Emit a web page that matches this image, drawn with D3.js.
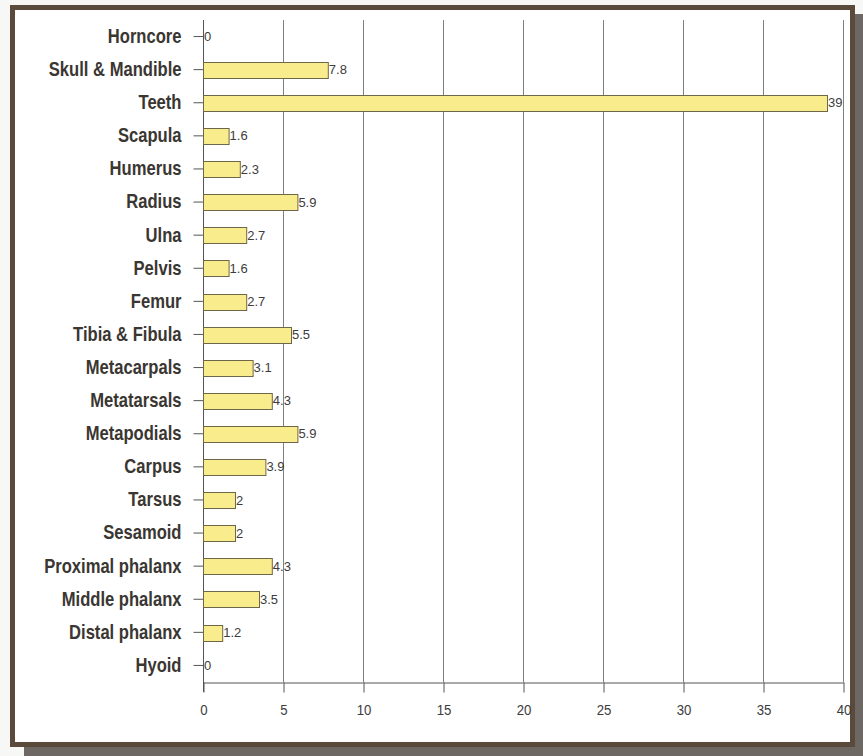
<!DOCTYPE html>
<html>
<head>
<meta charset="utf-8">
<script src="https://cdn.jsdelivr.net/npm/d3@7/dist/d3.min.js"></script>
<style>
  html, body { margin: 0; padding: 0; background: #f7f7f5; }
  svg { display: block; }
</style>
</head>
<body>
<svg id="chart" width="863" height="756"></svg>
<script>
// Skeletal element representation (%)
const categories = [
  "Horncore", "Skull & Mandible", "Teeth", "Scapula", "Humerus", "Radius",
  "Ulna", "Pelvis", "Femur", "Tibia & Fibula", "Metacarpals", "Metatarsals",
  "Metapodials", "Carpus", "Tarsus", "Sesamoid", "Proximal phalanx",
  "Middle phalanx", "Distal phalanx", "Hyoid"
];
const values = [0, 7.8, 39, 1.6, 2.3, 5.9, 2.7, 1.6, 2.7, 5.5, 3.1, 4.3, 5.9, 3.9, 2, 2, 4.3, 3.5, 1.2, 0];
const xTicks = [0, 5, 10, 15, 20, 25, 30, 35, 40];

const svg = d3.select("#chart");

// frame with drop shadow
svg.append("rect").attr("x", 24).attr("y", 14).attr("width", 839).attr("height", 742)
  .attr("fill", "#6d6864");
svg.append("rect").attr("x", 12.5).attr("y", 7.5).attr("width", 840).attr("height", 737)
  .attr("fill", "#ffffff").attr("stroke", "#5a4a3b").attr("stroke-width", 5);

const plot = { left: 203, right: 843, top: 20, bottom: 682 };

const x = d3.scaleLinear().domain([0, 40]).range([plot.left, plot.right]);
const y = d3.scaleBand().domain(categories).range([plot.top, plot.bottom]).paddingInner(0.53).paddingOuter(0.265);

// vertical gridlines
svg.append("g").selectAll("line").data(xTicks.slice(1)).join("line")
  .attr("x1", d => x(d) + 0.5).attr("x2", d => x(d) + 0.5)
  .attr("y1", plot.top).attr("y2", plot.bottom)
  .attr("stroke", "#808080").attr("stroke-width", 1);

// x axis
const xAxis = svg.append("g").attr("transform", `translate(0.5,${plot.bottom + 0.5})`)
  .call(d3.axisBottom(x).tickValues(xTicks).tickSize(10).tickPadding(12).tickSizeOuter(0));
xAxis.select(".domain").attr("stroke", "#555");
xAxis.selectAll(".tick line").attr("stroke", "#555");
xAxis.selectAll(".tick text").attr("fill", "#3c3c3c")
  .style("font-family", "'Liberation Sans', Arial, sans-serif").style("font-size", "15px")
  .attr("transform", "scale(0.88,1)");

// y axis
const yAxis = svg.append("g").attr("transform", `translate(${plot.left + 0.5},0)`)
  .call(d3.axisLeft(y).tickSize(10).tickPadding(8).tickSizeOuter(0));
yAxis.select(".domain").attr("stroke", "#555")
  .attr("d", `M0,${plot.top}V${plot.bottom + 10}`);
yAxis.selectAll(".tick line").attr("stroke", "#555");
// condensed bold category labels
yAxis.selectAll(".tick text").attr("fill", "#3a3632")
  .attr("x", 0)
  .attr("transform", "translate(-22,0) scale(0.83,1)")
  .style("font-family", "'Liberation Sans', Arial, sans-serif")
  .style("font-size", "20px").style("font-weight", "bold");

const rows = categories.map((c, i) => ({ c, v: values[i] }));

// bars
svg.append("g").selectAll("rect").data(rows.filter(d => d.v > 0)).join("rect")
  .attr("x", x(0) + 0.5)
  .attr("y", d => Math.round(y(d.c)) + 0.5)
  .attr("width", d => x(d.v) - x(0))
  .attr("height", Math.round(y.bandwidth()))
  .attr("fill", "#f8ec8c").attr("stroke", "#6e6747").attr("stroke-width", 1);

// value labels
svg.append("g").selectAll("text").data(rows).join("text")
  .attr("x", d => x(d.v) + 1)
  .attr("y", d => y(d.c) + y.bandwidth() / 2)
  .attr("dy", "0.35em")
  .attr("fill", "#3c3c3c")
  .style("font-family", "'Liberation Sans', Arial, sans-serif").style("font-size", "13px")
  .text(d => d.v);
</script>
</body>
</html>
